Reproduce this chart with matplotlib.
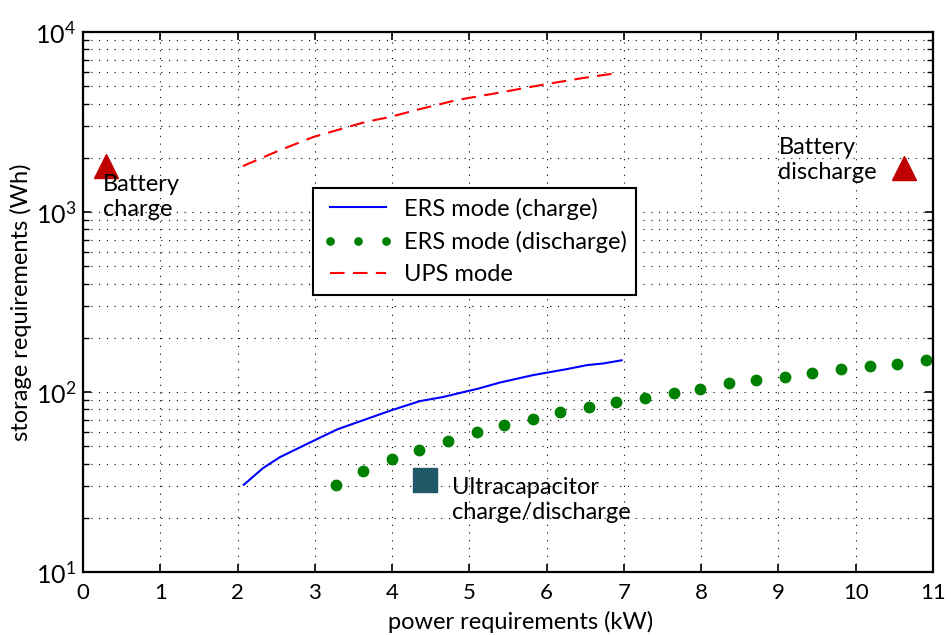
import matplotlib
matplotlib.use("Agg")
import matplotlib.pyplot as plt

plt.rcParams.update({"font.family": ["Lato", "DejaVu Sans"], "font.size": 17,
                     "mathtext.fontset": "custom", "mathtext.rm": "Lato",
                     "mathtext.it": "Lato:italic", "mathtext.bf": "Lato:bold"})

# ERS mode (charge) - solid blue
ers_ch_x = [2.08, 2.33, 2.55, 3.0, 3.29, 3.67, 4.0, 4.36, 4.66, 4.97, 5.1, 5.4, 5.82, 6.26, 6.52, 6.73, 6.97]
ers_ch_y = [30.5, 37.8, 43.5, 54, 62, 70.8, 79.4, 89, 93.8, 101, 104, 113, 124, 134, 141, 144, 150]

# ERS mode (discharge) - green dots
ers_dis_x = [3.27, 3.62, 4.0, 4.35, 4.72, 5.10, 5.45, 5.82, 6.17, 6.55, 6.90, 7.27, 7.65, 7.98,
             8.36, 8.71, 9.08, 9.43, 9.81, 10.19, 10.53, 10.91]
ers_dis_y = [30.5, 36.5, 42.4, 47.6, 53.4, 59.9, 65.6, 70.8, 77.4, 82.6, 88.5, 92.6, 99.2, 104,
             112, 116.6, 121, 128, 134, 140, 144, 150]

# UPS mode - red dashed
ups_x = [2.07, 2.52, 2.98, 3.65, 3.97, 4.36, 4.84, 5.36, 6.0, 6.47, 6.92]
ups_y = [1800, 2180, 2610, 3160, 3370, 3730, 4190, 4580, 5140, 5550, 5920]

# technology markers
batt_ch = (0.3, 1800)
batt_dis = (10.63, 1760)
ucap = (4.43, 32.4)

fig = plt.figure(figsize=(9.51, 6.35), dpi=100)
ax = fig.add_axes([0.0873, 0.0992, 0.8937, 0.8504])

ax.plot(ers_ch_x, ers_ch_y, color="blue", lw=1.5, label="ERS mode (charge)")
ax.plot(ers_dis_x, ers_dis_y, ls="none", marker="o", ms=7.5, color="green",
        label="ERS mode (discharge)")
ax.plot(ups_x, ups_y, color="red", lw=1.5, dashes=(7, 4), label="UPS mode")

ax.plot(*batt_ch, marker="^", ms=17, color="#C00000", ls="none")
ax.plot(*batt_dis, marker="^", ms=17, color="#C00000", ls="none")
ax.plot(*ucap, marker="s", ms=17, color="#215868", ls="none")

ax.text(0.26, 1620, "Battery\ncharge", ha="left", va="top", linespacing=1.2)
ax.text(9.0, 2600, "Battery\ndischarge", ha="left", va="top", linespacing=1.2)
ax.text(4.77, 33.5, "Ultracapacitor\ncharge/discharge", ha="left", va="top", linespacing=1.2)

ax.set_yscale("log")
ax.set_xlim(0, 11)
ax.set_ylim(10, 10000)
ax.set_xticks(range(12))
ax.grid(True, which="major", color="black", ls=(0, (1, 6)), lw=0.8)
ax.grid(True, which="minor", axis="y", color="black", ls=(0, (1, 6)), lw=0.8)
ax.tick_params(which="both", direction="in", top=True, right=True, labelsize=16)
ax.tick_params(axis="x", which="major", pad=8)
ax.tick_params(axis="y", which="major", labelsize=18, pad=5)
ax.tick_params(which="major", length=6, width=1.2)
ax.tick_params(which="minor", length=4, width=1)
for s in ax.spines.values():
    s.set_linewidth(1.6)

ax.set_xlabel("power requirements (kW)")
ax.xaxis.set_label_coords(0.515, -0.072)
ax.set_ylabel("storage requirements (Wh)", labelpad=2)

leg = ax.legend(loc="upper left", bbox_to_anchor=(313 / 951, 1 - 188 / 635),
                bbox_transform=fig.transFigure, fancybox=False, framealpha=1,
                edgecolor="black", handlelength=3.0, numpoints=3, markerscale=0.7,
                borderpad=0.4, labelspacing=0.48, handletextpad=0.45, borderaxespad=0)
leg.get_frame().set_linewidth(1.5)

fig.savefig("out.png", dpi=100)
